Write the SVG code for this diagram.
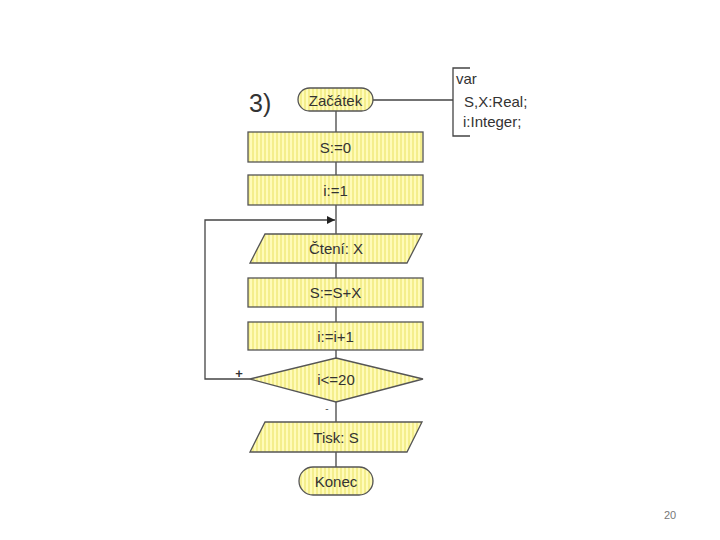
<svg xmlns="http://www.w3.org/2000/svg" width="720" height="540" viewBox="0 0 720 540">
<defs>
<pattern id="stripes" width="4" height="4" patternUnits="userSpaceOnUse">
<rect width="4" height="4" fill="#fffbb8"/>
<rect width="2" height="4" fill="#f4ee8c"/>
</pattern>
<marker id="arr" viewBox="0 0 10 10" refX="10" refY="5" markerWidth="8" markerHeight="8" markerUnits="userSpaceOnUse" orient="auto">
<path d="M0,0 L10,5 L0,10 z" fill="#222"/>
</marker>
</defs>
<style>
.shape{fill:url(#stripes);stroke:#555;stroke-width:1.3}
.line{fill:none;stroke:#444;stroke-width:1.3}
.t{font-family:"Liberation Sans",Arial,sans-serif;font-size:15px;fill:#333;text-anchor:middle;dominant-baseline:central}
.v{font-family:"Liberation Sans",Arial,sans-serif;font-size:15px;fill:#333}
</style>
<rect width="720" height="540" fill="#fff"/>
<g id="connectors">
<line class="line" x1="336" y1="111" x2="336" y2="132"/>
<line class="line" x1="336" y1="162" x2="336" y2="175"/>
<line class="line" x1="336" y1="205" x2="336" y2="234"/>
<line class="line" x1="336" y1="263" x2="336" y2="278"/>
<line class="line" x1="336" y1="307" x2="336" y2="322"/>
<line class="line" x1="336" y1="350" x2="336" y2="358"/>
<line class="line" x1="336" y1="402" x2="336" y2="422"/>
<line class="line" x1="336" y1="452" x2="336" y2="467"/>
<polyline class="line" points="250,379 205,379 205,220 335,220" marker-end="url(#arr)"/>
<line class="line" x1="373" y1="100" x2="453" y2="100"/>
<polyline class="line" points="470,68 453,68 453,136 470,136"/>
<text x="239" y="373" style="font-family:'Liberation Sans',Arial,sans-serif;font-size:13px;font-weight:bold;fill:#333" text-anchor="middle" dominant-baseline="central">+</text>
<text x="327" y="408" style="font-family:'Liberation Sans',Arial,sans-serif;font-size:10px;fill:#555" text-anchor="middle" dominant-baseline="central">-</text>
</g>
<text x="249" y="112" style="font-family:'Liberation Sans',Arial,sans-serif;font-size:25px;fill:#333">3)</text>
<g id="vars">
<text class="v" x="456" y="84">var</text>
<text class="v" x="464" y="107">S,X:Real;</text>
<text class="v" x="463" y="127">i:Integer;</text>
</g>
<g id="start">
<rect class="shape" x="298" y="88" width="75" height="23" rx="11.5"/>
<text class="t" x="335.5" y="100">Začátek</text>
</g>
<g id="s0">
<rect class="shape" x="248" y="132" width="175" height="30"/>
<text class="t" x="335.5" y="147">S:=0</text>
</g>
<g id="i1">
<rect class="shape" x="248" y="175" width="175" height="30"/>
<text class="t" x="335.5" y="190">i:=1</text>
</g>
<g id="read">
<polygon class="shape" points="265,234 422,234 407,263 250,263"/>
<text class="t" x="336" y="248.5">Čtení: X</text>
</g>
<g id="sum">
<rect class="shape" x="248" y="278" width="175" height="29"/>
<text class="t" x="335.5" y="292.5">S:=S+X</text>
</g>
<g id="inc">
<rect class="shape" x="248" y="322" width="175" height="28"/>
<text class="t" x="335.5" y="336">i:=i+1</text>
</g>
<g id="cond">
<polygon class="shape" points="336,358 423,379 336,402 250,379"/>
<text class="t" x="336" y="379">i&lt;=20</text>
</g>
<g id="print">
<polygon class="shape" points="265,422 422,422 407,452 250,452"/>
<text class="t" x="336" y="437">Tisk: S</text>
</g>
<g id="end">
<rect class="shape" x="299" y="467" width="74" height="28" rx="14"/>
<text class="t" x="336" y="481">Konec</text>
</g>
<text x="670" y="519" style="font-family:'Liberation Sans',Arial,sans-serif;font-size:11px;fill:#777" text-anchor="middle">20</text>
</svg>
